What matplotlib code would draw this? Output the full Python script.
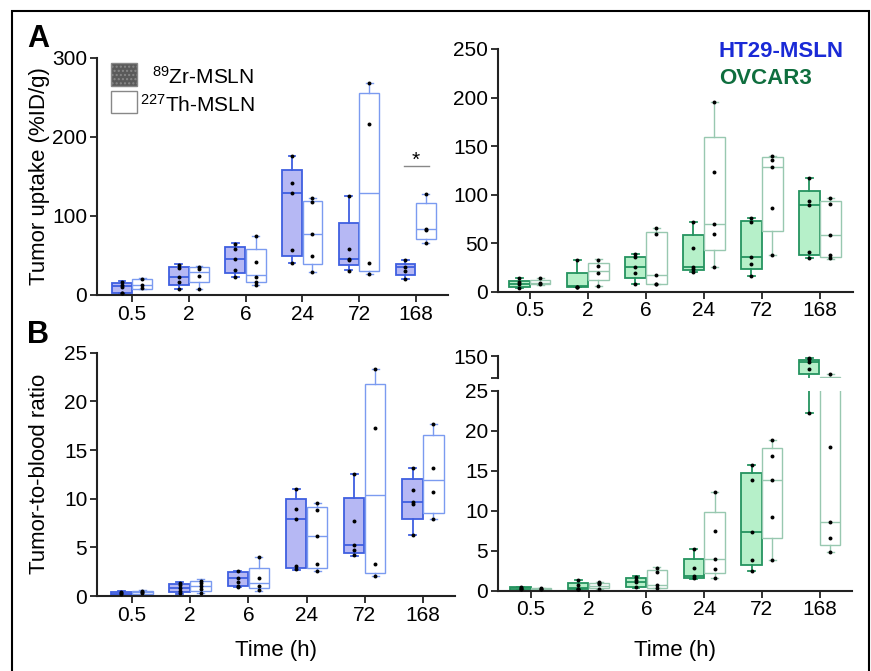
import matplotlib
matplotlib.use("Agg")
import matplotlib.pyplot as plt
from matplotlib.patches import Rectangle
import numpy as np

plt.rcParams['font.family'] = ['Liberation Sans', 'DejaVu Sans']
plt.rcParams['mathtext.default'] = 'regular'

W, H = 871, 671

times = ['0.5', '2', '6', '24', '72', '168']

# box stats per time point: [whisker low, q1, median, q3, whisker high]
ht29_uptake_zr = [[2, 3, 11, 15, 18], [7, 12.6, 23, 35.8, 39], [23, 27.4, 45, 61, 66],
                  [41, 49, 129, 158, 176], [31, 38, 45.5, 91.4, 125.5], [19.8, 25.3, 35.8, 38.8, 44]]
ht29_uptake_zr_pts = [[17, 13, 10, 3, 2], [38, 33.7, 23, 16.9, 7], [65, 58, 45, 31, 23],
                      [176, 142, 128.5, 57, 41], [125.5, 57.7, 45.5, 44, 30.8], [44, 36, 30.8, 19.8]]
ht29_uptake_th = [[7, 7.2, 12.6, 19.8, 21], [7, 16, 29.5, 35, 37], [12.6, 16, 25, 57.7, 75],
                  [28.6, 38.8, 76.7, 119, 122], [26, 30.3, 128.5, 255, 268], [66, 70.8, 83, 115.9, 127.7]]
ht29_uptake_th_pts = [[20, 12.6, 8.4], [36, 33, 24, 7], [75, 42, 23, 17, 12.6],
                      [122, 117, 76.7, 49, 28.6], [268, 215.7, 41, 26], [127.7, 84, 82, 66]]

ovcar3_uptake_zr = [[3.4, 4.5, 7.9, 11, 13.7], [5.2, 5.2, 5.8, 18.9, 32.6], [7.6, 14.4, 25, 36, 38.8],
                    [20.6, 22.3, 25.8, 58.4, 72], [16, 23.4, 36, 73, 75.5], [34.3, 37.8, 89.3, 104, 116.8]]
ovcar3_uptake_zr_pts = [[13.7, 10.3, 7.9, 4], [32.6, 5.2, 5.2, 5.2], [38.8, 35.4, 25, 19.6, 7.6],
                        [72, 45.3, 25, 23, 20.6], [75.5, 72, 36, 29, 16], [116.8, 93.4, 89.3, 41.2, 34.3]]
ovcar3_uptake_th = [[6.9, 7.6, 8.6, 12, 14.4], [6.2, 12, 21.6, 29.9, 33.3], [7.6, 7.6, 17.2, 61.8, 66],
                    [25.8, 42.9, 69.7, 159.7, 195.7], [37.8, 62.5, 128.8, 138.4, 140], [33.7, 36, 58.4, 93.4, 96.8]]
ovcar3_uptake_th_pts = [[13.7, 9.3, 7.9], [33, 26.4, 19.6, 6.2], [66, 59, 17.2, 7.6, 7.6],
                        [195.7, 123.6, 69.7, 59, 25.8], [140, 136, 128.8, 86.5, 37.8], [96.8, 90.3, 58.4, 37.8, 34.3]]

ht29_ratio_zr = [[0.07, 0.07, 0.2, 0.41, 0.55], [0.2, 0.45, 0.79, 1.23, 1.47], [0.96, 1.06, 1.88, 2.5, 2.6],
                 [2.67, 2.9, 7.88, 9.93, 11], [4.14, 4.45, 5.24, 10.03, 12.5], [6.27, 7.9, 9.7, 12.0, 13.2]]
ht29_ratio_zr_pts = [[0.45, 0.27, 0.2], [1.37, 1.1, 0.79, 0.55, 0.27], [2.6, 1.88, 1.47, 1.06, 0.96],
                     [11, 8.94, 7.88, 3.08, 2.74], [12.5, 7.74, 5.24, 4.73, 4.2], [13.2, 10.9, 9.7, 9.5, 6.27]]
ht29_ratio_th = [[0.15, 0.2, 0.38, 0.55, 0.6], [0.34, 0.55, 1.06, 1.54, 1.71], [0.55, 0.79, 1.3, 2.9, 3.97],
                 [2.57, 2.9, 6.17, 9.18, 9.52], [2.05, 2.33, 10.38, 21.8, 23.3], [7.9, 8.56, 11.9, 16.5, 17.7]]
ht29_ratio_th_pts = [[0.55, 0.45, 0.27], [1.54, 1.3, 1.06, 0.75, 0.34], [3.97, 1.88, 1.06, 0.6],
                     [9.52, 8.84, 6.17, 3.29, 2.57], [23.3, 17.3, 3.25, 2.05], [17.7, 13.2, 10.65, 7.9]]

ovcar3_ratio_zr = [[0.08, 0.08, 0.29, 0.5, 0.5], [0.17, 0.17, 0.29, 0.92, 1.33], [0.37, 0.5, 1.12, 1.62, 1.83],
                   [1.42, 1.54, 1.83, 3.96, 5.17], [2.46, 3.2, 7.29, 14.75, 15.7], [22.2, 109.5, 137, 141, 146]]
ovcar3_ratio_zr_pts = [[0.42, 0.29, 0.17, 0.25], [1.33, 0.7, 0.17, 0.17, 0.17], [1.75, 1.33, 1.12, 0.5],
                       [5.17, 2.87, 1.83, 1.54], [15.7, 13.8, 7.29, 3.83, 2.46], [146, 143, 137, 120, 22.2]]
ovcar3_ratio_th = [[0.08, 0.08, 0.2, 0.37, 0.37], [0.17, 0.37, 0.62, 0.92, 1.12], [0.29, 0.29, 0.71, 2.58, 2.92],
                   [1.62, 2.17, 3.96, 9.87, 12.4], [3.9, 6.6, 13.8, 17.8, 18.8], [4.8, 5.7, 8.6, 102, 109]]
ovcar3_ratio_th_pts = [[0.29, 0.25, 0.2], [1.12, 0.92, 0.79, 0.17], [2.79, 2.37, 0.71, 0.29],
                       [12.4, 7.5, 3.96, 2.71, 1.62], [18.8, 16.9, 13.8, 9.25, 3.9], [109, 18, 8.6, 6.6, 4.8]]

blue_face, blue_edge, blue_light = '#b6b8f4', '#3f5fe0', '#7b9bf0'
green_face, green_edge, green_light = '#b6f0c9', '#24935f', '#98c8b0'


def rect(l, t, r, b):
    return [l / W, 1 - b / H, (r - l) / W, (b - t) / H]


def to_stats(rows):
    return [dict(whislo=r[0], q1=r[1], med=r[2], q3=r[3], whishi=r[4]) for r in rows]


def draw_boxes(ax, zr, zr_pts, th, th_pts, face, edge, light):
    pos = np.arange(len(times))
    for stats, pts, offs, fc, ec, lw in [(zr, zr_pts, -0.18, face, edge, 1.3),
                                         (th, th_pts, 0.18, 'white', light, 1.0)]:
        lp = dict(color=ec, linewidth=lw)
        ax.bxp(to_stats(stats), positions=pos + offs, widths=0.35, showfliers=False,
               patch_artist=True, capwidths=0.12,
               boxprops=dict(facecolor=fc, edgecolor=ec, linewidth=lw),
               medianprops=lp, whiskerprops=lp, capprops=lp)
        for i, p in enumerate(pts):
            ax.scatter(np.full(len(p), pos[i] + offs), p, s=8, color='black', zorder=5, linewidths=0)


def style(ax, xlim, ylim, yticks, xaxis=True):
    ax.set_xlim(*xlim)
    ax.set_ylim(*ylim)
    ax.set_yticks(yticks)
    for s in ['top', 'right']:
        ax.spines[s].set_visible(False)
    for s in ['left', 'bottom']:
        ax.spines[s].set_linewidth(1.5)
        ax.spines[s].set_color('#222222')
    ax.tick_params(labelsize=15, length=5, width=1.3, color='#222222', pad=2)
    if xaxis:
        ax.set_xticks(np.arange(len(times)))
        ax.set_xticklabels(times)
    ax.set_facecolor('none')


fig = plt.figure(figsize=(W / 100, H / 100), dpi=100)

ax_a1 = fig.add_axes(rect(97, 57.7, 448, 295))
draw_boxes(ax_a1, ht29_uptake_zr, ht29_uptake_zr_pts, ht29_uptake_th, ht29_uptake_th_pts,
           blue_face, blue_edge, blue_light)
style(ax_a1, (-0.62, 5.57), (0, 300), [0, 100, 200, 300])
ax_a1.set_ylabel('Tumor uptake (%ID/g)', fontsize=16)
ax_a1.yaxis.set_label_coords(-0.134, 0.5)
ax_a1.plot([4.8, 5.23], [163, 163], color='#888888', lw=1)
ax_a1.text(5.0, 158, '*', ha='center', va='bottom', fontsize=15)

ax_a2 = fig.add_axes(rect(498, 49, 853, 291.7))
draw_boxes(ax_a2, ovcar3_uptake_zr, ovcar3_uptake_zr_pts, ovcar3_uptake_th, ovcar3_uptake_th_pts,
           green_face, green_edge, green_light)
style(ax_a2, (-0.55, 5.57), (0, 250), [0, 50, 100, 150, 200, 250])

ax_b1 = fig.add_axes(rect(97, 352.7, 455, 596))
draw_boxes(ax_b1, ht29_ratio_zr, ht29_ratio_zr_pts, ht29_ratio_th, ht29_ratio_th_pts,
           blue_face, blue_edge, blue_light)
style(ax_b1, (-0.6, 5.55), (0, 25), [0, 5, 10, 15, 20, 25])
ax_b1.set_ylabel('Tumor-to-blood ratio', fontsize=16)
ax_b1.yaxis.set_label_coords(-0.131, 0.5)
ax_b1.set_xlabel('Time (h)', fontsize=16)
ax_b1.xaxis.set_label_coords(0.5, -0.181)

# broken y axis for OVCAR3 ratio
ax_b2 = fig.add_axes(rect(498, 390.7, 852, 590.7))
draw_boxes(ax_b2, ovcar3_ratio_zr, ovcar3_ratio_zr_pts, ovcar3_ratio_th, ovcar3_ratio_th_pts,
           green_face, green_edge, green_light)
style(ax_b2, (-0.57, 5.56), (0, 25), [0, 5, 10, 15, 20, 25])
ax_b2.set_xlabel('Time (h)', fontsize=16)
ax_b2.xaxis.set_label_coords(0.5, -0.2465)

ax_b2u = fig.add_axes(rect(498, 356, 852, 378.3))
draw_boxes(ax_b2u, ovcar3_ratio_zr, ovcar3_ratio_zr_pts, ovcar3_ratio_th, ovcar3_ratio_th_pts,
           green_face, green_edge, green_light)
style(ax_b2u, (-0.57, 5.56), (100, 150), [100, 150], xaxis=False)
ax_b2u.set_yticklabels(['', '150'])
ax_b2u.spines['bottom'].set_visible(False)
ax_b2u.set_xticks([])

# legend
fig.add_artist(Rectangle((110.7 / W, 1 - 86 / H), 26.3 / W, 23 / H, transform=fig.transFigure,
                         facecolor='#5a5a5a', edgecolor='#888888', hatch='....', lw=1))
fig.add_artist(Rectangle((110.7 / W, 1 - 113 / H), 26.3 / W, 22 / H, transform=fig.transFigure,
                         facecolor='white', edgecolor='#888888', lw=1))
fig.text(152 / W, 1 - 76.7 / H, '$^{89}$Zr-MSLN', fontsize=15, va='center')
fig.text(140 / W, 1 - 105 / H, '$^{227}$Th-MSLN', fontsize=15, va='center')

fig.text(719 / W, 1 - 51.7 / H, 'HT29-MSLN', fontsize=16, fontweight='bold', color='#1a2ad6', va='center')
fig.text(719 / W, 1 - 78 / H, 'OVCAR3', fontsize=16, fontweight='bold', color='#0f6e3e', va='center')

fig.text(27 / W, 1 - 24 / H, 'A', fontsize=22, fontweight='bold', va='top')
fig.text(27 / W, 1 - 320 / H, 'B', fontsize=22, fontweight='bold', va='top')

fig.add_artist(Rectangle((11.5 / W, -0.02), 857.5 / W, 1.02 - 11.5 / H, transform=fig.transFigure,
                         facecolor='none', edgecolor='black', lw=1.5))

fig.savefig('out.png', dpi=100)
